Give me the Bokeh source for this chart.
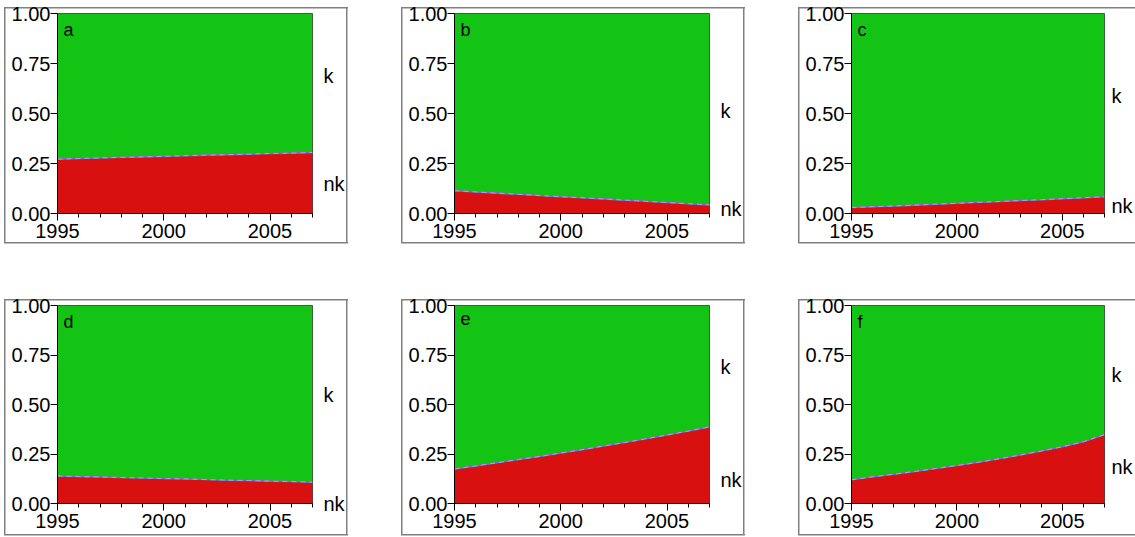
from bokeh.plotting import figure
from bokeh.models import Range1d, FixedTicker, PrintfTickFormatter, Label, LinearAxis
from bokeh.layouts import column, row
from bokeh.embed import file_html
from bokeh.resources import INLINE

years = list(range(1995, 2008))

nk_a = [0.272, 0.275, 0.278, 0.281, 0.283, 0.286, 0.289, 0.292, 0.294, 0.297, 0.300, 0.302, 0.305]
nk_b = [0.114, 0.108, 0.102, 0.096, 0.090, 0.084, 0.079, 0.073, 0.067, 0.061, 0.055, 0.049, 0.043]
nk_c = [0.030, 0.034, 0.038, 0.042, 0.047, 0.051, 0.056, 0.060, 0.065, 0.069, 0.074, 0.079, 0.084]
nk_d = [0.139, 0.136, 0.134, 0.131, 0.129, 0.126, 0.124, 0.121, 0.118, 0.116, 0.113, 0.111, 0.108]
nk_e = [0.175, 0.190, 0.206, 0.222, 0.238, 0.255, 0.272, 0.290, 0.308, 0.327, 0.346, 0.366, 0.387]
nk_f = [0.120, 0.135, 0.148, 0.162, 0.177, 0.192, 0.208, 0.226, 0.245, 0.265, 0.287, 0.312, 0.348]

panel_letters = ["a", "b", "c", "d", "e", "f"]
series_names = ["k", "nk"]
x_major_ticks = [1995, 2000, 2005]
y_ticks = [0.0, 0.25, 0.5, 0.75, 1.0]

# where the "k" and "nk" tags sit (y, data units) right of each panel
k_label_y = [0.69, 0.515, 0.59, 0.546, 0.69, 0.65]
nk_label_y = [0.15, 0.025, 0.04, 0.0, 0.12, 0.185]

GREEN = "#13c414"
RED = "#d81010"
FONT = "Liberation Sans"
FS = "20px"


def box_styles():
    col = "linear-gradient(#808080, #808080)"
    return {
        "background-image": ", ".join([col] * 4),
        "background-position": "4px 7px, 4px 242px, 4px 7px, 346px 7px",
        "background-size": "344px 1.5px, 344px 1.5px, 1.5px 236px, 1.5px 236px",
        "background-repeat": "no-repeat",
    }


def make_panel(letter, nk, ky, nky, width, height, frame_h, label_standoff):
    right_border = width - 57 - 255
    bottom_border = height - 13 - frame_h
    p = figure(width=width, height=height, output_backend="svg", toolbar_location=None,
               x_range=Range1d(1995, 2007), y_range=Range1d(0, 1),
               min_border_left=57, min_border_right=right_border,
               min_border_top=13, min_border_bottom=bottom_border)
    p.border_fill_color = None
    p.styles = box_styles()
    p.xgrid.visible = False
    p.ygrid.visible = False
    p.background_fill_color = "white"
    p.outline_line_color = "#444444"
    p.outline_line_width = 1

    ones = [1.0] * len(years)
    zeros = [0.0] * len(years)
    p.varea(x=years, y1=nk, y2=ones, fill_color=GREEN)
    p.varea(x=years, y1=zeros, y2=nk, fill_color=RED)
    p.line(years, nk, line_color="#6f6fd8", line_width=1.6)
    p.line(years, nk, line_color="#c89ad8", line_width=1.0, line_dash="5 4")

    xa = p.xaxis[0]
    xa.ticker = FixedTicker(ticks=x_major_ticks, minor_ticks=years)
    xa.major_tick_out = 7
    xa.major_tick_in = 0
    xa.minor_tick_out = 4
    xa.minor_tick_in = 0
    xa.major_label_standoff = 3
    xa.major_label_text_font = FONT
    xa.major_label_text_font_size = FS
    xa.major_label_text_color = "black"
    xa.axis_line_color = "black"

    ya = p.yaxis[0]
    ya.ticker = FixedTicker(ticks=y_ticks, minor_ticks=[])
    ya.formatter = PrintfTickFormatter(format="%.2f")
    ya.major_tick_out = 7
    ya.major_tick_in = 0
    ya.major_label_standoff = 0
    ya.major_label_text_font = FONT
    ya.major_label_text_font_size = FS
    ya.major_label_text_color = "black"
    ya.axis_line_color = "black"

    # series tags on the right as an axis with text labels only
    ra = LinearAxis(ticker=FixedTicker(ticks=[ky, nky], minor_ticks=[]),
                    major_label_overrides={ky: series_names[0], nky: series_names[1]})
    ra.axis_line_color = None
    ra.major_tick_line_color = None
    ra.minor_tick_line_color = None
    ra.major_tick_out = 0
    ra.major_tick_in = 0
    ra.major_label_standoff = label_standoff
    ra.major_label_text_font = FONT
    ra.major_label_text_font_size = FS
    ra.major_label_text_color = "black"
    p.add_layout(ra, "right")

    p.add_layout(Label(x=1995, y=1, x_offset=6, y_offset=-6, text=letter,
                       text_font=FONT, text_font_size="18px", text_baseline="top",
                       text_color="black"))
    return p


data = [nk_a, nk_b, nk_c, nk_d, nk_e, nk_f]
widths = [397, 397, 341]
standoffs = [11, 11, 7]
panels = []
for i in range(6):
    r = i // 3
    c = i % 3
    h = 292 if r == 0 else 245
    fh = 200 if r == 0 else 198
    panels.append(make_panel(panel_letters[i], data[i], k_label_y[i], nk_label_y[i],
                             widths[c], h, fh, standoffs[c]))

layout = column(row(panels[0], panels[1], panels[2], spacing=0),
                row(panels[3], panels[4], panels[5], spacing=0), spacing=0)

open("out.html", "w").write(file_html(layout, INLINE))
